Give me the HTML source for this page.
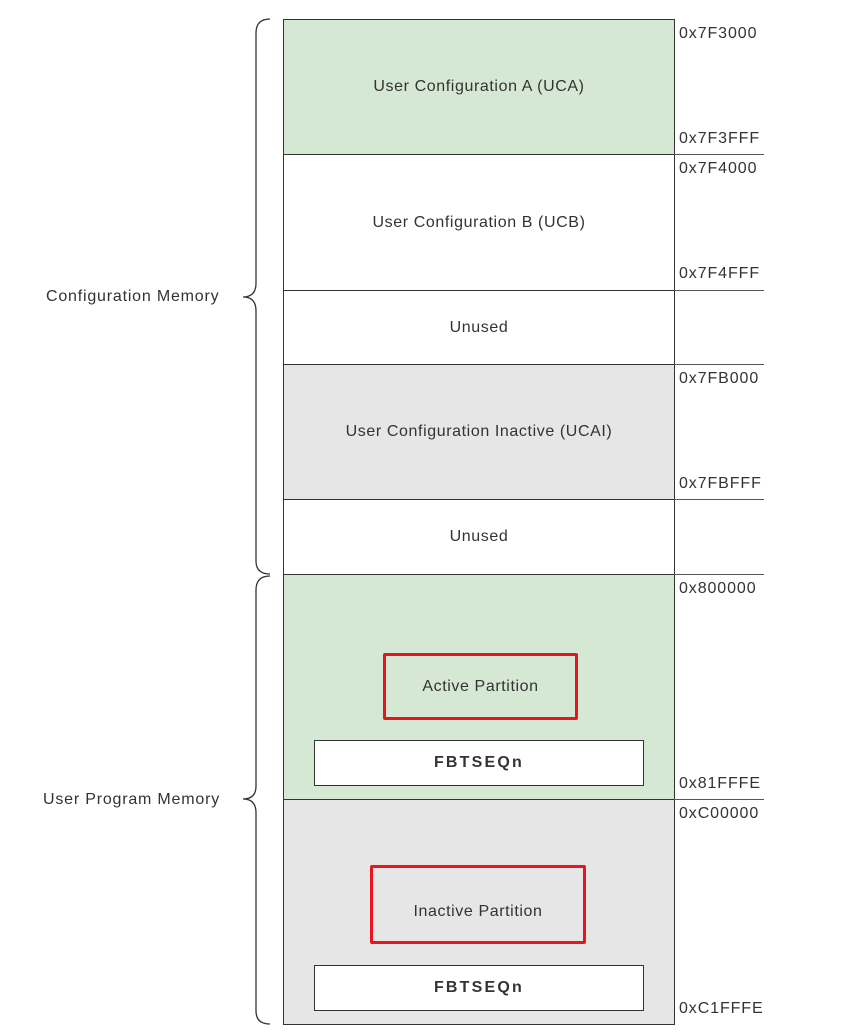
<!DOCTYPE html>
<html><head><style>
body{margin:0;width:854px;height:1035px;background:#fff;font-family:"Liberation Sans",Arial,sans-serif;position:relative;overflow:hidden;color:#333}
.b{position:absolute;box-sizing:border-box;border:1.5px solid #333;display:flex;align-items:center;justify-content:center;font-size:16px;letter-spacing:0.6px}
.a{position:absolute;left:679px;font-size:16px;letter-spacing:0.9px;color:#333}
.l{position:absolute;left:674px;width:90px;height:0;border-top:1.5px solid #555}
.t{position:absolute;font-size:16px;letter-spacing:0.8px}
</style></head><body>
<div class="b" style="left:283px;top:19px;width:392px;height:136px;background:#d5e8d4">User Configuration A (UCA)</div>
<div class="b" style="left:283px;top:154px;width:392px;height:137px;background:#fff">User Configuration B (UCB)</div>
<div class="b" style="left:283px;top:290px;width:392px;height:75px;background:#fff">Unused</div>
<div class="b" style="left:283px;top:364px;width:392px;height:136px;background:#e6e6e6">User Configuration Inactive (UCAI)</div>
<div class="b" style="left:283px;top:499px;width:392px;height:76px;background:#fff">Unused</div>
<div class="b" style="left:283px;top:574px;width:392px;height:226px;background:#d5e8d4"></div>
<div class="b" style="left:283px;top:799px;width:392px;height:226px;background:#e6e6e6"></div>
<div class="b" style="left:383px;top:653px;width:195px;height:67px;border:3px solid #e8141e;border-radius:2px">Active Partition</div>
<div class="b" style="left:370px;top:865px;width:216px;height:79px;border:3px solid #e8141e;border-radius:2px;padding-top:14px">Inactive Partition</div>
<div class="b" style="left:314px;top:740px;width:330px;height:46px;background:#fff;font-weight:bold;letter-spacing:2.2px">FBTSEQn</div>
<div class="b" style="left:314px;top:965px;width:330px;height:46px;background:#fff;font-weight:bold;letter-spacing:2.2px">FBTSEQn</div>
<div class="l" style="top:154px"></div><div class="l" style="top:290px"></div><div class="l" style="top:364px"></div>
<div class="l" style="top:499px"></div><div class="l" style="top:574px"></div><div class="l" style="top:799px"></div>
<div class="a" style="top:25px">0x7F3000</div><div class="a" style="top:130px">0x7F3FFF</div>
<div class="a" style="top:160px">0x7F4000</div><div class="a" style="top:265px">0x7F4FFF</div>
<div class="a" style="top:370px">0x7FB000</div><div class="a" style="top:475px">0x7FBFFF</div>
<div class="a" style="top:580px">0x800000</div><div class="a" style="top:775px">0x81FFFE</div>
<div class="a" style="top:805px">0xC00000</div><div class="a" style="top:1000px">0xC1FFFE</div>
<div class="t" style="left:46px;top:288px">Configuration Memory</div>
<div class="t" style="left:43px;top:791px">User Program Memory</div>
<svg style="position:absolute;left:0;top:0" width="854" height="1035">
<path d="M270 19 Q256 19 256 33 L256 283 Q256 297 243 297 Q256 297 256 311 L256 561 Q256 574 270 574" fill="none" stroke="#333" stroke-width="1.3"/>
<path d="M270 576 Q256 576 256 590 L256 786 Q256 799 243 799 Q256 799 256 813 L256 1011 Q256 1024 270 1024" fill="none" stroke="#333" stroke-width="1.3"/>
</svg>
</body></html>
